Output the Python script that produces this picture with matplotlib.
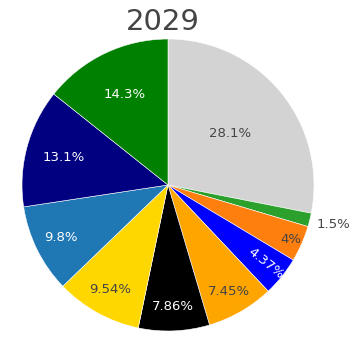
import numpy as np
import matplotlib.pyplot as plt

# share of each category in 2029, clockwise from 12 o'clock
shares = [28.1, 1.5, 4, 4.37, 7.45, 7.86, 9.54, 9.8, 13.1, 14.3]
labels = ["28.1%", "1.5%", "4%", "4.37%", "7.45%", "7.86%", "9.54%", "9.8%", "13.1%", "14.3%"]
colors = ["#d3d3d3", "#2ca02c", "#ff7f0e", "#0000ff", "#ffa500",
          "#000000", "#ffd700", "#1f77b4", "#000080", "#008000"]

# label placement: distance from centre (fraction of radius), text colour
label_dist = [0.55, 1.12, 0.92, 0.86, 0.84, 0.83, 0.82, 0.82, 0.74, 0.69]
label_col = ["#444444", "#444444", "#444444", "white", "#444444",
             "white", "#444444", "white", "white", "white"]

fig = plt.figure(figsize=(3.58, 3.39), dpi=100)
cx, cy, r = 168, 339 - 185, 146
ax = fig.add_axes([(cx - r) / 358, (cy - r) / 339, 2 * r / 358, 2 * r / 339])

wedges, _ = ax.pie(shares, colors=colors, startangle=90, counterclock=False,
                   wedgeprops=dict(edgecolor="white", linewidth=0.4))
ax.set_xlim(-1, 1)
ax.set_ylim(-1, 1)

for w, lab, d, c in zip(wedges, labels, label_dist, label_col):
    mid = np.deg2rad((w.theta1 + w.theta2) / 2)
    x, y = d * np.cos(mid), d * np.sin(mid)
    rot = 0
    ha = "center"
    if lab == "4.37%":
        rot = np.rad2deg(mid)
    if lab == "1.5%":
        ha = "left"
        x = 1.02
    ax.text(x, y, lab, color=c, fontsize=9.5, ha=ha, va="center",
            rotation=rot, rotation_mode="anchor")

fig.text(163 / 358, 1 - 22 / 339, "2029", fontsize=21, color="#444444",
         ha="center", va="center")

fig.savefig("out.png", dpi=100)
